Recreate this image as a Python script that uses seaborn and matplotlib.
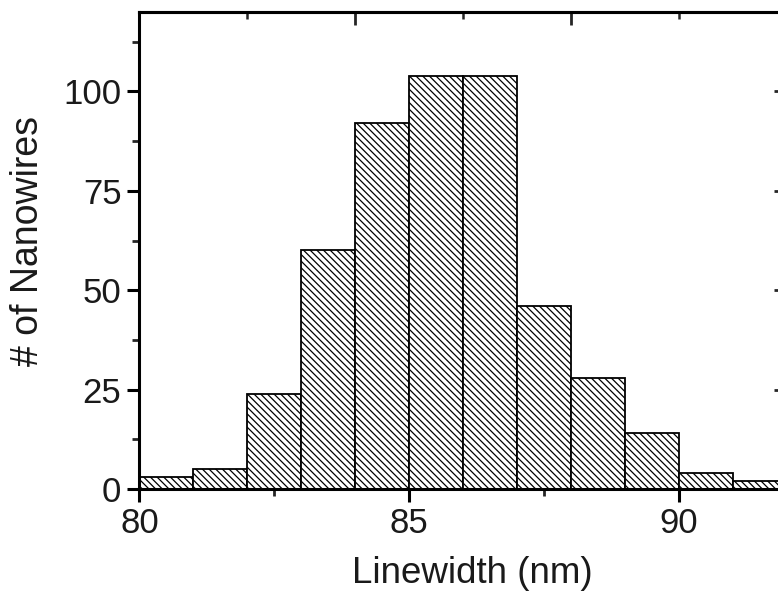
import numpy as np
import pandas as pd
import matplotlib
matplotlib.use("Agg")
import matplotlib.pyplot as plt
import seaborn as sns
from matplotlib.ticker import MultipleLocator

# Histogram values (bin width 1 nm)
bin_left = [80, 81, 82, 83, 84, 85, 86, 87, 88, 89, 90, 91]
counts = [3, 5, 24, 60, 92, 104, 104, 46, 28, 14, 4, 2]
edges = bin_left + [92]

data = pd.DataFrame({'Linewidth': [b + 0.5 for b in bin_left], 'Count': counts})

sns.set_style("ticks")
plt.rcParams['font.family'] = ['Liberation Sans', 'DejaVu Sans']
plt.rcParams['hatch.linewidth'] = 0.9

fig = plt.figure(figsize=(7.78, 5.93), dpi=100)
# right spine falls just outside the figure, as in the cropped original
ax = fig.add_axes([0.1793, 0.1754, 0.8316, 0.8044])

sns.histplot(data=data, x='Linewidth', weights='Count', bins=edges,
             color='white', edgecolor='black', linewidth=1.3, alpha=1, ax=ax)
for p in ax.patches:
    p.set_hatch('\\\\\\\\\\')

ax.set_xlim(80, 92)
ax.set_ylim(0, 120)
ax.xaxis.set_major_locator(MultipleLocator(5))
ax.xaxis.set_minor_locator(MultipleLocator(2.5))
ax.yaxis.set_major_locator(MultipleLocator(25))
ax.yaxis.set_minor_locator(MultipleLocator(12.5))

for s in ax.spines.values():
    s.set_linewidth(2.2)
    s.set_color('black')
    s.set_visible(True)

ax.tick_params(which='major', direction='out', length=9, width=2.2,
               labelsize=25, colors='black', labelcolor='#1a1a1a', pad=4)
ax.tick_params(which='minor', direction='out', length=5, width=2.0)

# inward ticks on the top and right spines
top = ax.secondary_xaxis('top')
top.xaxis.set_major_locator(MultipleLocator(4))
top.xaxis.set_minor_locator(MultipleLocator(2))
top.tick_params(which='major', direction='in', length=9, width=2.0, labeltop=False)
top.tick_params(which='minor', direction='in', length=5, width=1.8)
top.spines['top'].set_linewidth(2.2)
right = ax.secondary_yaxis('right')
right.yaxis.set_major_locator(MultipleLocator(25))
right.yaxis.set_minor_locator(MultipleLocator(12.5))
right.tick_params(which='major', direction='in', length=9, width=2.0, labelright=False)
right.tick_params(which='minor', direction='in', length=5, width=1.5)

ax.set_xlabel('Linewidth (nm)', fontsize=26.5, color='#1a1a1a')
ax.set_ylabel('# of Nanowires', fontsize=27, color='#1a1a1a')
ax.xaxis.set_label_coords(0.514, -0.14)
ax.yaxis.set_label_coords(-0.145, 0.52)
ax.grid(False)

fig.savefig('out.png', dpi=100)
